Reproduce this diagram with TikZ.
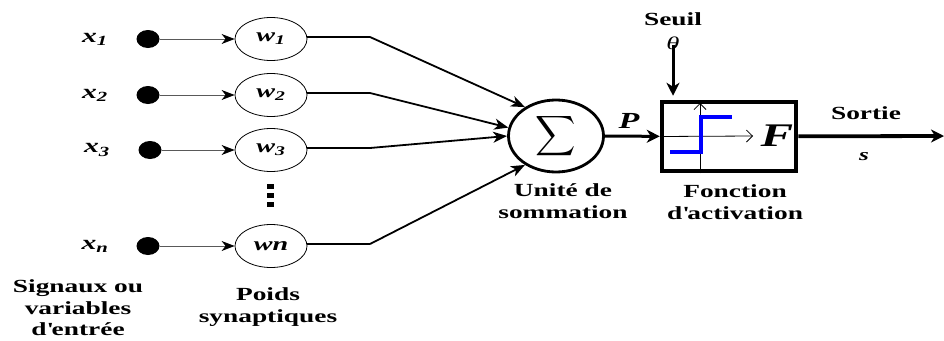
\documentclass[tikz,border=0pt]{standalone}
\usepackage{graphicx}
\usepackage{fontspec}
\setmainfont{Liberation Serif}[FakeStretch=1.48]
\usetikzlibrary{shapes.geometric, arrows.meta, positioning, calc}

\begin{document}
\begin{tikzpicture}[x=1pt, y=-1pt,
  txt/.style={font=\fontsize{18.5}{21.5}\selectfont\bfseries, align=center},
  sym/.style={font=\fontsize{20}{22}\selectfont\bfseries\itshape, inner sep=0pt},
  dot/.style={ellipse, fill=black, minimum width=23pt, minimum height=18pt, inner sep=0pt},
  weight/.style={ellipse, draw, line width=0.8pt, minimum width=72pt, minimum height=43pt, inner sep=0pt, font=\fontsize{19}{20}\selectfont\bfseries\itshape},
  inarrow/.style={draw=black!65, line width=0.9pt, -{Stealth[length=13pt, width=10pt, inset=4pt, fill=black, color=black]}},
  sumarrow/.style={line width=1.8pt, -{Stealth[length=14pt, width=11pt, inset=4pt]}},
  bigarrow/.style={line width=3pt, -{Stealth[length=13pt, width=13pt, inset=4pt]}},
  axis/.style={line width=0.8pt, -{Straight Barb[length=6pt, width=12pt]}}]
\useasboundingbox (0,0) rectangle (944,340);

% Inputs and synaptic weights
\foreach \i/\y/\dx/\wt in {1/39/0/w\textsubscript{1}, 2/95/0/w\textsubscript{2}, 3/150/2/w\textsubscript{3}, n/246/0/wn} {
  \node[sym] (x\i) at (95+\dx,\y) {x\textsubscript{\i}};
  \node[dot] (d\i) at (148+\dx,\y) {};
  \node[weight] (w\i) at (271,\y) {\wt};
  \draw[inarrow] (d\i) -- (w\i);
  \coordinate (k\i) at (370,\y-2);
  \draw[line width=2.2pt] (w\i.east |- k\i) -- (k\i);
}
\foreach \y in {186,195,204}
  \fill (267,\y-2.5) rectangle (274,\y+2.5);

% Summation unit
\node[ellipse, draw, line width=2.8pt, minimum width=95pt, minimum height=72pt, inner sep=0pt] (sum) at (556,136) {\scalebox{2.8}{$\displaystyle\sum$}};
\draw[sumarrow] (k1) -- (sum.137);
\draw[sumarrow] (k2) -- (sum.170);
\draw[sumarrow] (k3) -- (sum.180);
\draw[sumarrow] (kn) -- (sum.223);
\node[txt] (sumlbl) at (563,201) {Unité de\\sommation};

% Activation function
\node[rectangle, draw, line width=4.5pt, minimum width=134pt, minimum height=69pt] (act) at (729,136.5) {};
\draw[bigarrow] (sum) -- (act);
\node[sym, font=\fontsize{23}{24}\selectfont\bfseries\itshape] (p) at (629,121) {P};
\coordinate (hx) at (753,136);
\coordinate (vy) at (700,103);
\draw[axis] (act.west) -- (hx);
\draw[axis] (vy |- act.south) -- (vy);
\draw[blue, line width=3.8pt] (670,152) -- (701,152) -- (701,117) -- (732,117);
\node[sym, font=\fontsize{33}{34}\selectfont\bfseries\itshape] (f) at (777,136) {F};
\node[txt] (afct) at (735,202) {Fonction\\d\textquotesingle activation};

% Threshold
\node[txt] (seuil) at (673,19) {Seuil};
\node[sym, font=\fontsize{18}{20}\selectfont\itshape] (theta) at (673,43) {θ};
\draw[bigarrow, shorten >=4pt] ([yshift=5pt]theta.south) -- (theta |- act.north);

% Output
\coordinate (out) at (944,136);
\draw[bigarrow, line width=3.8pt] (act) -- (out);
\node[txt] (sortie) at (866,113) {Sortie};
\node[sym, font=\fontsize{17}{18}\selectfont\bfseries\itshape] (s) at (864,157) {s};

% Legends
\node[txt] (siglbl) at (78,308) {Signaux ou\\variables\\d\textquotesingle entrée};
\node[txt] (wlbl) at (268,307) {Poids\\synaptiques};
\end{tikzpicture}
\end{document}
